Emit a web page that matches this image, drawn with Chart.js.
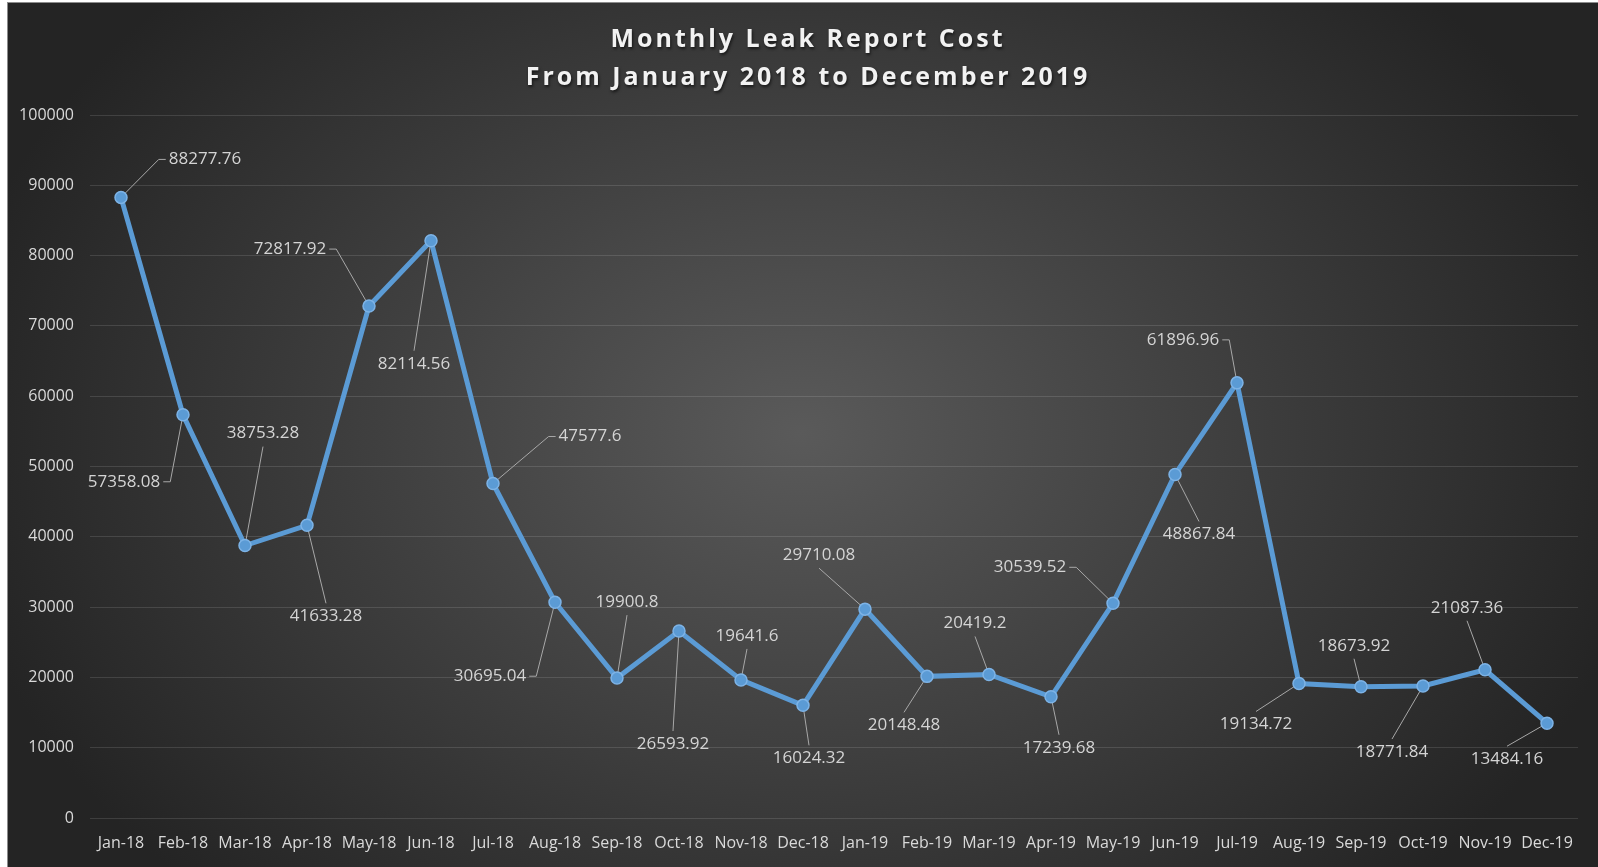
<!DOCTYPE html>
<html>
<head>
<meta charset="utf-8">
<script src="https://cdn.jsdelivr.net/npm/chart.js@4"></script>
<style>
html,body{margin:0;padding:0;background:#ffffff;width:1598px;height:867px;overflow:hidden}
#wrap{position:absolute;left:7px;top:2px;width:1590px;height:864px;border-left:1px solid #8c8c8c;border-top:1px solid #8c8c8c;}
canvas{display:block}
</style>
</head>
<body>
<div id="wrap"><canvas id="c" width="1590" height="864"></canvas></div>
<script>
// ---- data ----
const months = ['Jan-18','Feb-18','Mar-18','Apr-18','May-18','Jun-18','Jul-18','Aug-18','Sep-18','Oct-18','Nov-18','Dec-18',
                'Jan-19','Feb-19','Mar-19','Apr-19','May-19','Jun-19','Jul-19','Aug-19','Sep-19','Oct-19','Nov-19','Dec-19'];
const costs = [88277.76, 57358.08, 38753.28, 41633.28, 72817.92, 82114.56, 47577.6, 30695.04, 19900.8, 26593.92, 19641.6, 16024.32,
               29710.08, 20148.48, 20419.2, 17239.68, 30539.52, 48867.84, 61896.96, 19134.72, 18673.92, 18771.84, 21087.36, 13484.16];
const titleLines = ['Monthly Leak Report Cost', 'From January 2018 to December 2019'];
const yMin = 0, yMax = 100000, yStep = 10000;

// ---- label placement (pixel offsets from each point, and leader anchor type) ----
const labelOffsets = [[84,-38],[-59,67],[18,-112],[19,91],[-79,-57],[-17,123],[97,-47],[-65,74],[10,-76],[-6,113],[6,-44],[6,53],
                      [-46,-54],[-23,49],[-14,-51],[8,51],[-83,-36],[24,60],[-54,-43],[-43,41],[-7,-41],[-31,66],[-18,-62],[-40,36]];
const labelAnchor = ['s','s','v','v','s','v','s','s','v','v','v','v','v','v','v','v','s','v','s','v','v','v','v','v'];

const bgPlugin = {
  id: 'bg',
  beforeDraw(chart) {
    const ctx = chart.ctx, w = chart.width, h = chart.height;
    ctx.save();
    const cx = 792, cy = 430, rx = 860, ry = 640;
    ctx.translate(cx, cy);
    ctx.scale(1, ry / rx);
    const g = ctx.createRadialGradient(0, 0, 0, 0, 0, rx);
    g.addColorStop(0, '#5a5a5a');
    g.addColorStop(1, '#242424');
    ctx.fillStyle = g;
    ctx.fillRect(-cx - 10, -cy * rx / ry - 10, w + 20, h * rx / ry + 20);
    ctx.restore();
  }
};

const titlePlugin = {
  id: 'customTitle',
  afterDraw(chart) {
    const ctx = chart.ctx;
    ctx.save();
    ctx.font = 'bold 25px "Open Sans"';
    try { ctx.letterSpacing = '3px'; } catch (e) {}
    ctx.fillStyle = '#f2f2f2';
    ctx.textAlign = 'center';
    ctx.textBaseline = 'middle';
    ctx.shadowColor = 'rgba(0,0,0,0.6)';
    ctx.shadowBlur = 3;
    ctx.shadowOffsetX = 1;
    ctx.shadowOffsetY = 2;
    ctx.fillText(titleLines[0], 800, 37);
    ctx.fillText(titleLines[1], 800, 75);
    ctx.restore();
  }
};

function labelGeom(chart, i) {
  const pt = chart.getDatasetMeta(0).data[i];
  const off = labelOffsets[i];
  return { px: pt.x, py: pt.y, cx: pt.x + off[0], cy: pt.y + off[1] };
}

const leaderPlugin = {
  id: 'leaders',
  beforeDatasetsDraw(chart) {
    const ctx = chart.ctx;
    ctx.save();
    ctx.font = '17px "Open Sans"';
    ctx.strokeStyle = '#a8a8a8';
    ctx.lineWidth = 1;
    costs.forEach((v, i) => {
      const g = labelGeom(chart, i);
      const w = ctx.measureText(String(v)).width;
      ctx.beginPath();
      if (labelAnchor[i] === 's') {
        const dir = g.px > g.cx ? 1 : -1;
        const ex = g.cx + dir * (w / 2 + 3);
        const sx = ex + dir * 7;
        ctx.moveTo(ex, g.cy);
        ctx.lineTo(sx, g.cy);
        ctx.lineTo(g.px, g.py);
      } else {
        const dir = g.py > g.cy ? 1 : -1;
        const ay = g.cy + dir * 13;
        ctx.moveTo(g.cx, ay);
        ctx.lineTo(g.px, g.py);
      }
      ctx.stroke();
    });
    ctx.restore();
  },
  afterDatasetsDraw(chart) {
    const ctx = chart.ctx;
    ctx.save();
    ctx.font = '17px "Open Sans"';
    ctx.fillStyle = '#d4d4d4';
    ctx.textAlign = 'center';
    ctx.textBaseline = 'middle';
    costs.forEach((v, i) => {
      const g = labelGeom(chart, i);
      ctx.fillText(String(v), g.cx, g.cy);
    });
    ctx.restore();
  }
};

new Chart(document.getElementById('c'), {
  type: 'line',
  data: {
    labels: months,
    datasets: [{
      data: costs,
      borderColor: '#5B9BD5',
      borderWidth: 5,
      pointRadius: 6,
      pointBackgroundColor: '#5B9BD5',
      pointBorderColor: '#7db3e6',
      pointBorderWidth: 1.5,
      tension: 0,
      clip: false
    }]
  },
  options: {
    responsive: false,
    devicePixelRatio: 1,
    animation: false,
    events: [],
    layout: { padding: { top: 112, left: 0, right: 20, bottom: 9 } },
    plugins: { legend: { display: false }, tooltip: { enabled: false }, title: { display: false } },
    scales: {
      x: {
        offset: true,
        grid: { display: false, drawTicks: false },
        border: { display: false },
        ticks: { color: '#d9d9d9', font: { family: 'Open Sans', size: 16 }, padding: 16, maxRotation: 0, autoSkip: false },
        afterFit(scale) { scale.height = 40; }
      },
      y: {
        min: yMin, max: yMax,
        grid: { color: 'rgba(255,255,255,0.12)', lineWidth: 1, drawTicks: false },
        border: { display: false },
        ticks: { stepSize: yStep, color: '#d9d9d9', font: { family: 'Open Sans', size: 16 }, padding: 16,
                 callback: (value) => String(value) },
        afterFit(scale) { scale.width = 82; }
      }
    }
  },
  plugins: [bgPlugin, leaderPlugin, titlePlugin]
});
</script>
</body>
</html>
